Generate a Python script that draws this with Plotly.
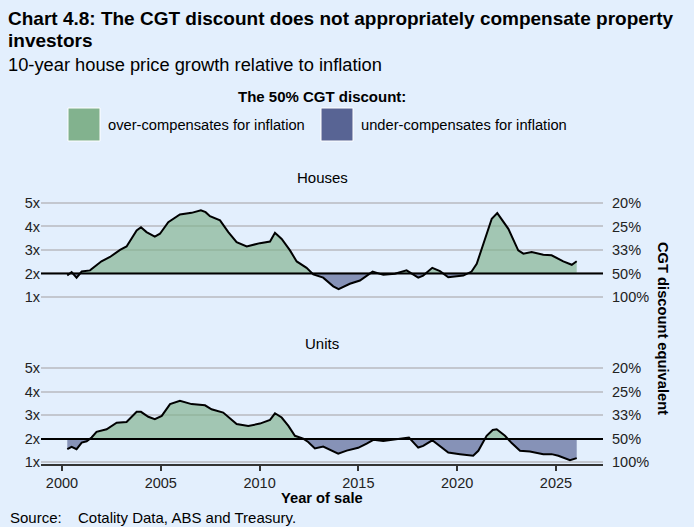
import plotly.graph_objects as go

# 10-year price growth as a multiple of inflation
houses_year = [2000.27, 2000.49, 2000.74, 2001.0, 2001.42, 2001.67, 2002.0, 2002.43, 2002.94, 2003.27,
               2003.78, 2004.0, 2004.28, 2004.7, 2004.96, 2005.38, 2005.97, 2006.56, 2007.03, 2007.27,
               2007.49, 2008.0, 2008.42, 2008.84, 2009.35, 2010.02, 2010.53, 2010.78, 2011.12, 2011.54,
               2011.88, 2012.38, 2012.72, 2013.22, 2013.73, 2014.0, 2014.57, 2015.08, 2015.25, 2015.72,
               2016.26, 2016.85, 2017.44, 2018.03, 2018.28, 2018.74, 2019.13, 2019.55, 2020.31, 2020.73,
               2020.99, 2021.32, 2021.75, 2022.03, 2022.59, 2023.09, 2023.35, 2023.77, 2024.36, 2024.78,
               2025.37, 2025.8, 2026.05]
houses = [1.91, 2.06, 1.82, 2.08, 2.13, 2.30, 2.52, 2.70, 3.00, 3.15,
          3.83, 3.97, 3.76, 3.57, 3.69, 4.18, 4.51, 4.58, 4.69, 4.61,
          4.44, 4.26, 3.76, 3.33, 3.15, 3.29, 3.36, 3.73, 3.47, 2.98,
          2.51, 2.24, 1.96, 1.82, 1.45, 1.33, 1.56, 1.70, 1.80, 2.08,
          1.94, 1.99, 2.13, 1.82, 1.91, 2.24, 2.10, 1.84, 1.91, 2.08,
          2.41, 3.26, 4.33, 4.57, 3.90, 2.98, 2.84, 2.91, 2.80, 2.77,
          2.51, 2.37, 2.52]

units_year = [2000.27, 2000.49, 2000.74, 2001.0, 2001.25, 2001.5, 2001.75, 2002.26, 2002.77, 2003.27,
              2003.78, 2004.0, 2004.37, 2004.7, 2005.05, 2005.47, 2005.97, 2006.56, 2007.24, 2007.57,
              2008.16, 2008.84, 2009.43, 2010.02, 2010.53, 2010.78, 2011.12, 2011.46, 2011.79, 2012.21,
              2012.46, 2012.8, 2013.22, 2013.56, 2013.98, 2014.41, 2014.99, 2015.42, 2015.76, 2016.26,
              2016.94, 2017.56, 2018.03, 2018.28, 2018.74, 2019.13, 2019.55, 2020.14, 2020.48, 2020.81,
              2021.07, 2021.49, 2021.8, 2022.0, 2022.42, 2022.76, 2023.18, 2023.68, 2024.36, 2024.78,
              2025.12, 2025.71, 2026.05]
units = [1.56, 1.66, 1.56, 1.84, 1.90, 2.06, 2.30, 2.41, 2.69, 2.72,
         3.15, 3.15, 2.94, 2.84, 2.98, 3.48, 3.62, 3.48, 3.43, 3.26,
         3.12, 2.63, 2.55, 2.65, 2.81, 3.09, 2.91, 2.55, 2.13, 2.01,
         1.87, 1.59, 1.67, 1.52, 1.37, 1.50, 1.62, 1.80, 1.96, 1.91,
         1.99, 2.06, 1.63, 1.70, 1.94, 1.70, 1.42, 1.35, 1.32, 1.28,
         1.49, 2.13, 2.38, 2.41, 2.13, 1.82, 1.49, 1.46, 1.35, 1.35,
         1.28, 1.09, 1.18]

multiple_ticks = [1, 2, 3, 4, 5]
multiple_labels = ["1x", "2x", "3x", "4x", "5x"]
discount_labels = ["100%", "50%", "33%", "25%", "20%"]
year_ticks = [2000, 2005, 2010, 2015, 2020, 2025]

NEUTRAL = 2  # at 2x growth the 50% discount exactly offsets inflation
BG = "#e3effd"
GREEN = "#82b28e"
BLUE = "#586494"
GREEN_FILL = "rgba(130,178,142,0.67)"
BLUE_FILL = "rgba(88,100,148,0.67)"
FONT = "Liberation Sans, Arial, sans-serif"

W, H = 694, 527
L, R, T, B = 41, 91, 195, 63


def paper_x(px):
    return (px - L) / (W - L - R)


def paper_y(py):
    return (H - B - py) / (H - T - B)


def split_at_neutral(xs, ys, level):
    # add the crossing points so green and blue meet the 2x line cleanly
    out_x, out_y = [xs[0]], [ys[0]]
    for i in range(1, len(xs)):
        x0, y0, x1, y1 = xs[i - 1], ys[i - 1], xs[i], ys[i]
        if (y0 - level) * (y1 - level) < 0:
            t = (level - y0) / (y1 - y0)
            out_x.append(x0 + t * (x1 - x0))
            out_y.append(level)
        out_x.append(x1)
        out_y.append(y1)
    return out_x, out_y


def add_panel(fig, xs, ys, xa, ya, ya_right):
    px, py = split_at_neutral(xs, ys, NEUTRAL)
    base = [NEUTRAL] * len(px)
    for clip, colour in ((max, GREEN_FILL), (min, BLUE_FILL)):
        fig.add_trace(go.Scatter(x=px, y=base, xaxis=xa, yaxis=ya, mode="lines",
                                 line=dict(width=0), hoverinfo="skip", showlegend=False))
        fig.add_trace(go.Scatter(x=px, y=[clip(v, NEUTRAL) for v in py], xaxis=xa, yaxis=ya,
                                 mode="lines", line=dict(width=0), fill="tonexty",
                                 fillcolor=colour, hoverinfo="skip", showlegend=False))
    # the line goes on the right-hand (discount) axis, same range, so that axis gets drawn
    fig.add_trace(go.Scatter(x=xs, y=ys, xaxis=xa, yaxis=ya_right, mode="lines",
                             line=dict(color="black", width=2), showlegend=False))


fig = go.Figure()
add_panel(fig, houses_year, houses, "x", "y", "y3")
add_panel(fig, units_year, units, "x2", "y2", "y4")

x_range = [1998.94, 2027.38]
y_range = [0.93, 5.34]
TICK_FONT = dict(size=14.5, color="#222")
left_axis = dict(range=y_range, tickvals=multiple_ticks, ticktext=multiple_labels,
                 showgrid=True, gridcolor="#c3c7cf", gridwidth=1.5, zeroline=False,
                 showline=False, ticks="", tickfont=TICK_FONT)
right_axis = dict(range=y_range, tickvals=multiple_ticks, ticktext=discount_labels,
                  showgrid=False, zeroline=False, showline=False, ticks="", side="right",
                  ticklabelstandoff=8, tickfont=TICK_FONT)

fig.update_layout(
    width=W, height=H,
    margin=dict(l=L, r=R, t=T, b=B),
    paper_bgcolor=BG, plot_bgcolor=BG,
    font=dict(family=FONT, size=14.5, color="black"),
    showlegend=False,
    xaxis=dict(range=x_range, domain=[0, 1], anchor="y", showticklabels=False,
               showgrid=False, zeroline=False, showline=False, ticks=""),
    xaxis2=dict(range=x_range, domain=[0, 1], anchor="y2", tickvals=year_ticks,
                showgrid=False, zeroline=False, showline=True, linecolor="#333", linewidth=1.5,
                ticks="outside", ticklen=5, tickcolor="#333", tickwidth=1.5,
                tickfont=TICK_FONT),
    yaxis=dict(domain=[0.615, 1], anchor="x", **left_axis),
    yaxis2=dict(domain=[0, 0.385], anchor="x2", **left_axis),
    yaxis3=dict(overlaying="y", anchor="x", **right_axis),
    yaxis4=dict(overlaying="y2", anchor="x2", **right_axis),
)

# 2x line: where the 50% discount matches inflation
fig.add_shape(type="line", xref="x domain", yref="y", x0=0, x1=1, y0=NEUTRAL, y1=NEUTRAL,
              line=dict(color="black", width=2))
fig.add_shape(type="line", xref="x2 domain", yref="y2", x0=0, x1=1, y0=NEUTRAL, y1=NEUTRAL,
              line=dict(color="black", width=2))

# legend swatches
for x0, x1, colour in ((68, 100, GREEN), (321, 353, BLUE)):
    fig.add_shape(type="rect", xref="paper", yref="paper",
                  x0=paper_x(x0), x1=paper_x(x1), y0=paper_y(141), y1=paper_y(108),
                  fillcolor=colour, line=dict(color="white", width=1))


def note(text, px, py, size=14.5, bold=False, xanchor="left", angle=0):
    if bold:
        text = "<b>" + text + "</b>"
    fig.add_annotation(text=text, xref="paper", yref="paper", x=paper_x(px), y=paper_y(py),
                       xanchor=xanchor, yanchor="middle", showarrow=False, textangle=angle,
                       font=dict(size=size, family=FONT, color="black"))


note("Chart 4.8: The CGT discount does not appropriately compensate property", 6, 19, 19, True)
note("investors", 6, 41, 19, True)
note("10-year house price growth relative to inflation", 6, 64, 18.3)
note("The 50% CGT discount:", 322, 96, 15, True, "center")
note("over-compensates for inflation", 106, 125, 14.7)
note("under-compensates for inflation", 359, 125, 14.7)
note("Houses", 322, 178, 15, False, "center")
note("Units", 322, 343, 15, False, "center")
note("CGT discount equivalent", 663, 328, 14.7, True, "center", 90)
note("Year of sale", 322, 498, 14.7, True, "center")
note("Source:", 8, 517, 15)
note("Cotality Data, ABS and Treasury.", 76, 517, 15)

# page margin off so the figure sits at the window's top-left corner
fig.write_html("out.html", config={"displayModeBar": False},
               post_script="document.body.style.margin = '0';")
